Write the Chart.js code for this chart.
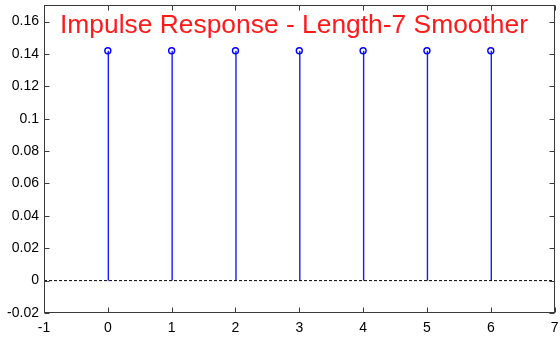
<!DOCTYPE html>
<html><head><meta charset="utf-8">
<script src="https://cdn.jsdelivr.net/npm/chart.js@4/dist/chart.umd.min.js"></script>
<style>html,body{margin:0;padding:0;background:#fff}#wrap{width:560px;height:341px}</style>
</head><body><div id="wrap"><canvas id="c" width="560" height="341"></canvas></div>
<script>
const sampleIndex = [0, 1, 2, 3, 4, 5, 6];
const impulseValues = [0.142, 0.142, 0.142, 0.142, 0.142, 0.142, 0.142];
const xTickValues = [-1, 0, 1, 2, 3, 4, 5, 6, 7];
const yTickValues = [-0.02, 0, 0.02, 0.04, 0.06, 0.08, 0.1, 0.12, 0.14, 0.16];
const xRange = [-1, 7];
const yRange = [-0.02, 0.17];
const titleText = 'Impulse Response - Length-7 Smoother';

const FONT = "'Liberation Sans', Arial, sans-serif";

function noPad(s) { s.paddingTop = 0; s.paddingBottom = 0; s.paddingLeft = 0; s.paddingRight = 0; }

const stemPlugin = {
  id: 'stems',
  beforeDatasetsDraw(chart) {
    const {ctx, scales: {x, y}} = chart;
    ctx.save();
    ctx.strokeStyle = '#1a1aff';
    ctx.lineWidth = 1.4;
    sampleIndex.forEach((n, i) => {
      const px = x.getPixelForValue(n) + 0.5;
      ctx.beginPath();
      ctx.moveTo(px, y.getPixelForValue(0));
      ctx.lineTo(px, y.getPixelForValue(impulseValues[i]));
      ctx.stroke();
    });
    ctx.restore();
  },
  afterDraw(chart) {
    const {ctx, chartArea: a, scales: {x, y}} = chart;
    ctx.save();
    ctx.strokeStyle = '#3a3a3a';
    ctx.lineWidth = 1;
    const L = Math.round(a.left) + 0.5, R = Math.round(a.right) - 0.5;
    const T = Math.round(a.top) + 0.5, B = Math.round(a.bottom) - 0.5;
    ctx.strokeRect(L, T, R - L, B - T);
    const tl = 5;
    ctx.beginPath();
    xTickValues.forEach(v => {
      const px = Math.round(x.getPixelForValue(v)) + 0.5;
      ctx.moveTo(px, B); ctx.lineTo(px, B - tl);
      ctx.moveTo(px, T); ctx.lineTo(px, T + tl);
    });
    yTickValues.forEach(v => {
      const py = Math.round(y.getPixelForValue(v)) + 0.5;
      ctx.moveTo(L, py); ctx.lineTo(L + tl, py);
      ctx.moveTo(R, py); ctx.lineTo(R - tl, py);
    });
    ctx.stroke();
    ctx.fillStyle = '#ff1a1a';
    ctx.font = '26.4px ' + FONT;
    ctx.textBaseline = 'alphabetic';
    ctx.textAlign = 'left';
    ctx.fillText(titleText, 60, 33);
    ctx.restore();
  }
};

new Chart(document.getElementById('c'), {
  type: 'scatter',
  data: {
    datasets: [
      {
        data: [{x: xRange[0], y: 0}, {x: xRange[1], y: 0}],
        showLine: true,
        borderColor: '#000',
        borderWidth: 1,
        borderDash: [3, 2],
        pointRadius: 0,
        order: 2
      },
      {
        data: sampleIndex.map((n, i) => ({x: n, y: impulseValues[i]})),
        pointStyle: 'circle',
        pointRadius: 3,
        borderColor: '#0000ff',
        backgroundColor: 'rgba(0,0,0,0)',
        borderWidth: 1.4,
        order: 1
      }
    ]
  },
  options: {
    responsive: false,
    animation: false,
    devicePixelRatio: 1,
    layout: {padding: {left: 0, top: 4, right: 4, bottom: 0}},
    plugins: {legend: {display: false}, tooltip: {enabled: false}},
    scales: {
      x: {
        type: 'linear', min: xRange[0], max: xRange[1],
        afterBuildTicks(s) { s.ticks = xTickValues.map(v => ({value: v})); },
        afterFit(s) { s.height = 28; noPad(s); },
        grid: {display: false, drawTicks: false},
        border: {display: false},
        ticks: {color: '#000', font: {family: FONT, size: 14}, padding: 7, maxRotation: 0,
          callback: v => String(v)}
      },
      y: {
        type: 'linear', min: yRange[0], max: yRange[1],
        afterBuildTicks(s) { s.ticks = yTickValues.map(v => ({value: v})); },
        afterFit(s) { s.width = 44; noPad(s); },
        grid: {display: false, drawTicks: false},
        border: {display: false},
        ticks: {color: '#000', font: {family: FONT, size: 14}, padding: 5,
          callback: v => String(+v.toFixed(2))}
      }
    }
  },
  plugins: [stemPlugin]
});
</script>
</body></html>
